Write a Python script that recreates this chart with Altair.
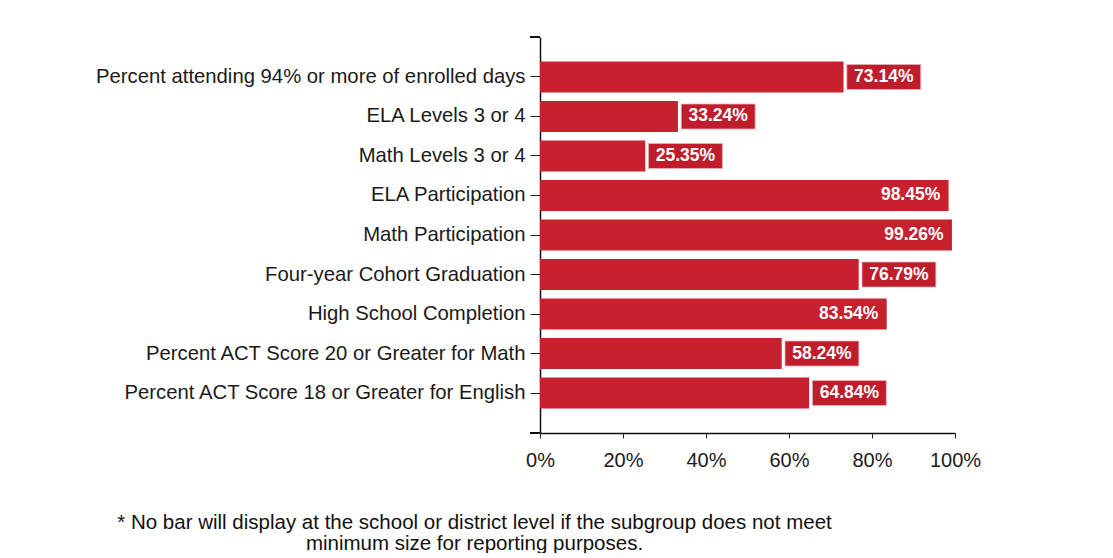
import altair as alt
import pandas as pd

categories = [
    "Percent attending 94% or more of enrolled days",
    "ELA Levels 3 or 4",
    "Math Levels 3 or 4",
    "ELA Participation",
    "Math Participation",
    "Four-year Cohort Graduation",
    "High School Completion",
    "Percent ACT Score 20 or Greater for Math",
    "Percent ACT Score 18 or Greater for English",
]
values = [73.14, 33.24, 25.35, 98.45, 99.26, 76.79, 83.54, 58.24, 64.84]
x_ticks = [0, 20, 40, 60, 80, 100]
footnote = [
    "* No bar will display at the school or district level if the subgroup does not meet",
    "minimum size for reporting purposes.",
]

df = pd.DataFrame({"cat": categories, "v": values})

BAR = "#C7202F"
BOX = "#BF1D2C"

y_scale = alt.Scale(domain=categories, paddingInner=0.215, paddingOuter=0.62)
y_enc = alt.Y(
    "cat:N",
    sort=categories,
    title=None,
    scale=y_scale,
    axis=alt.Axis(
        labelFont="Liberation Sans",
        labelFontSize=20.3,
        labelColor="#1a1a1a",
        labelPadding=5,
        tickSize=10,
        tickColor="#222",
        domainColor="#111",
        domainWidth=1.5,
        labelLimit=600,
    ),
)
y_plain = alt.Y("cat:N", sort=categories, scale=y_scale, title=None)
x_scale = alt.Scale(domain=[0, 100], nice=False)

bars = alt.Chart(df).mark_bar(color=BAR).encode(
    x=alt.X(
        "v:Q",
        scale=x_scale,
        title=None,
        axis=alt.Axis(
            values=x_ticks,
            labelExpr="datum.value + '%'",
            labelFont="Liberation Sans",
            labelFontSize=20,
            labelColor="#1a1a1a",
            labelFlush=False,
            tickSize=5,
            tickColor="#222",
            labelPadding=12,
            domainColor="#111",
            domainWidth=1.5,
            grid=False,
        ),
    ),
    y=y_enc,
)

base = alt.Chart(df).transform_calculate(
    outside="datum.v < 80",
    b0="datum.v + 0.8",
    b1="datum.v + 0.8 + 17.8",
    tx="datum.v < 80 ? datum.v + 0.8 + 8.9 : datum.v - 2.0",
    lab="format(datum.v, '.2f') + '%'",
)

boxes = base.transform_filter("datum.outside").mark_bar(
    color=BOX, stroke="#e8b0b4", strokeWidth=0.8, height=25
).encode(
    x=alt.X("b0:Q", scale=x_scale),
    x2="b1:Q",
    y=y_plain,
)

text_out = base.transform_filter("datum.outside").mark_text(
    color="white", fontWeight="bold", fontSize=17.5, font="Liberation Sans",
    align="center", baseline="middle",
).encode(
    x=alt.X("tx:Q", scale=x_scale),
    y=y_plain,
    text="lab:N",
)

text_in = base.transform_filter("!datum.outside").mark_text(
    color="white", fontWeight="bold", fontSize=17.5, font="Liberation Sans",
    align="right", baseline="middle",
).encode(
    x=alt.X("tx:Q", scale=x_scale),
    y=y_plain,
    text="lab:N",
)

top_tick = alt.Chart(df).mark_rule(color="#111", strokeWidth=1.5).encode(
    x=alt.value(-10), x2=alt.value(0), y=alt.value(0)
)
bottom_tick = alt.Chart(df).mark_rule(color="#111", strokeWidth=1.5).encode(
    x=alt.value(-10), x2=alt.value(0), y=alt.value(396)
)

chart = alt.layer(bars, boxes, text_out, text_in, top_tick, bottom_tick).properties(
    width=415,
    height=396,
    padding={"left": 532, "top": 29, "right": 150, "bottom": 120},
    autosize=alt.AutoSizeParams(type="none"),
    view=alt.ViewBackground(stroke="transparent", strokeWidth=0),
    title=alt.TitleParams(
        text=footnote,
        orient="bottom",
        anchor="middle",
        dx=-273,
        offset=43,
        font="Liberation Sans",
        fontSize=20.5,
        fontWeight="normal",
        color="#111",
        lineHeight=21,
    ),
).configure_view(stroke="transparent", strokeWidth=0).configure(background="white")

chart.save("out.html", embed_options={"renderer": "svg", "actions": False})
